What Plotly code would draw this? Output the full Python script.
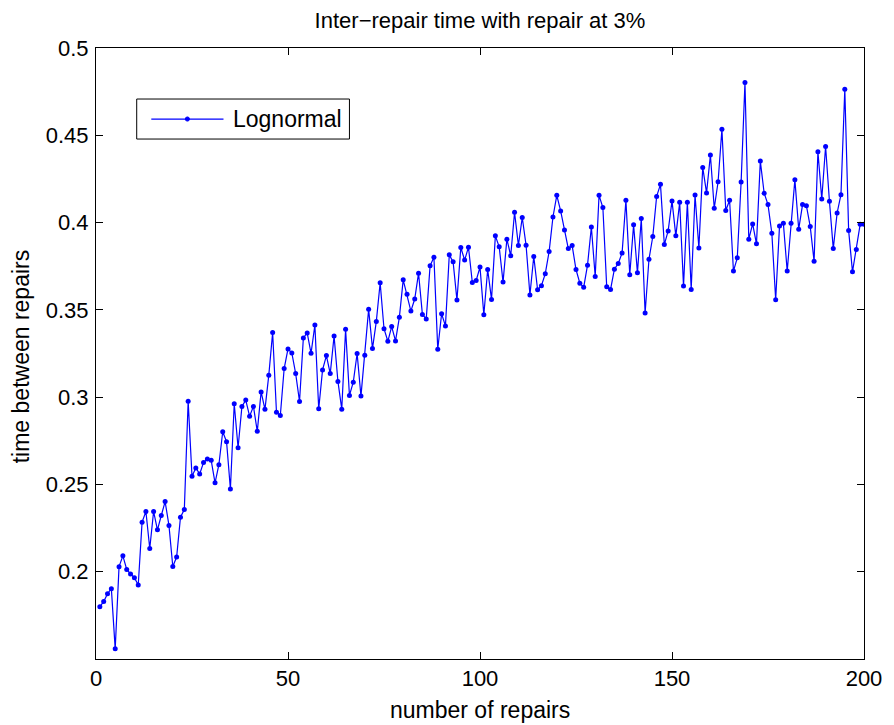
import plotly.graph_objects as go

# Time between consecutive repairs (lognormal model), one value per repair
repair_times = [
    0.1800, 0.1829, 0.1874, 0.1903, 0.1558, 0.2029, 0.2091, 0.2013, 0.1987, 0.1966,
    0.1924, 0.2284, 0.2345, 0.2133, 0.2345, 0.2240, 0.2322, 0.2402, 0.2265, 0.2030,
    0.2084, 0.2312, 0.2356, 0.2977, 0.2547, 0.2594, 0.2560, 0.2625, 0.2646, 0.2638,
    0.2509, 0.2613, 0.2802, 0.2745, 0.2474, 0.2962, 0.2710, 0.2947, 0.2983, 0.2891,
    0.2947, 0.2804, 0.3030, 0.2930, 0.3126, 0.3370, 0.2914, 0.2895, 0.3164, 0.3276,
    0.3253, 0.3135, 0.2975, 0.3339, 0.3368, 0.3251, 0.3413, 0.2933, 0.3156, 0.3238,
    0.3135, 0.3350, 0.3090, 0.2931, 0.3389, 0.3010, 0.3086, 0.3250, 0.3006, 0.3240,
    0.3503, 0.3278, 0.3434, 0.3655, 0.3392, 0.3320, 0.3404, 0.3322, 0.3457, 0.3672,
    0.3589, 0.3493, 0.3562, 0.3710, 0.3474, 0.3448, 0.3752, 0.3802, 0.3274, 0.3478,
    0.3408, 0.3815, 0.3775, 0.3556, 0.3857, 0.3785, 0.3859, 0.3657, 0.3668, 0.3745,
    0.3472, 0.3731, 0.3560, 0.3924, 0.3861, 0.3659, 0.3905, 0.3810, 0.4059, 0.3869,
    0.4029, 0.3870, 0.3585, 0.3806, 0.3615, 0.3638, 0.3707, 0.3834, 0.4032, 0.4156,
    0.4067, 0.3958, 0.3851, 0.3868, 0.3731, 0.3653, 0.3629, 0.3756, 0.3975, 0.3691,
    0.4156, 0.4086, 0.3632, 0.3617, 0.3733, 0.3766, 0.3825, 0.4128, 0.3701, 0.3987,
    0.3712, 0.4023, 0.3482, 0.3790, 0.3920, 0.4150, 0.4219, 0.3874, 0.3952, 0.4124,
    0.3924, 0.4116, 0.3636, 0.4116, 0.3617, 0.4158, 0.3855, 0.4316, 0.4170, 0.4387,
    0.4082, 0.4234, 0.4535, 0.4069, 0.4128, 0.3722, 0.3798, 0.4232, 0.4802, 0.3905,
    0.3992, 0.3878, 0.4352, 0.4168, 0.4103, 0.3939, 0.3558, 0.3981, 0.3996, 0.3722,
    0.3996, 0.4246, 0.3962, 0.4103, 0.4097, 0.3977, 0.3779, 0.4406, 0.4135, 0.4436,
    0.4122, 0.3851, 0.4055, 0.4160, 0.4764, 0.3954, 0.3718, 0.3846, 0.3990, 0.3990,
]
repair_number = list(range(1, len(repair_times) + 1))

x_ticks = [0, 50, 100, 150, 200]
y_ticks = [0.2, 0.25, 0.3, 0.35, 0.4, 0.45, 0.5]
y_tick_text = ["0.2", "0.25", "0.3", "0.35", "0.4", "0.45", "0.5"]

series_name = "Lognormal"
line_color = "#0000FF"
font_family = "Liberation Sans, Arial, Helvetica, sans-serif"

fig = go.Figure()
fig.add_trace(go.Scatter(
    x=repair_number,
    y=repair_times,
    mode="lines+markers",
    name=series_name,
    line=dict(color=line_color, width=1.2),
    marker=dict(color=line_color, size=5),
    showlegend=False,
))

axis_common = dict(
    showline=True,
    linecolor="black",
    linewidth=1,
    mirror="ticks",
    ticks="inside",
    ticklen=7,
    tickwidth=1,
    tickcolor="black",
    showgrid=False,
    zeroline=False,
    tickfont=dict(family=font_family, size=22, color="black"),
)

fig.update_xaxes(range=[0, 200], tickvals=x_ticks, ticklabelstandoff=0, **axis_common)
fig.update_yaxes(range=[0.15, 0.5], tickvals=y_ticks, ticktext=y_tick_text,
                 ticklabelstandoff=2, **axis_common)

# Legend box drawn in paper coordinates (MATLAB-style: long line sample with a dot)
legend_x0, legend_x1 = 0.053, 0.330
legend_y0, legend_y1 = 0.851, 0.9165
legend_mid = (legend_y0 + legend_y1) / 2
sample_x0, sample_x1 = 0.072, 0.166
sample_cx = (sample_x0 + sample_x1) / 2
dot_rx, dot_ry = 0.0027, 0.0034

shapes = [
    dict(type="rect", xref="paper", yref="paper",
         x0=legend_x0, x1=legend_x1, y0=legend_y0, y1=legend_y1,
         line=dict(color="black", width=1), fillcolor="white", layer="above"),
    dict(type="line", xref="paper", yref="paper",
         x0=sample_x0, x1=sample_x1, y0=legend_mid, y1=legend_mid,
         line=dict(color=line_color, width=1.2), layer="above"),
    dict(type="circle", xref="paper", yref="paper",
         x0=sample_cx - dot_rx, x1=sample_cx + dot_rx,
         y0=legend_mid - dot_ry, y1=legend_mid + dot_ry,
         line=dict(color=line_color, width=1), fillcolor=line_color, layer="above"),
]

annotations = [
    dict(text=series_name, xref="paper", yref="paper", x=0.176, y=legend_mid,
         xanchor="left", yanchor="middle", showarrow=False,
         font=dict(family=font_family, size=23, color="black")),
    dict(text="number of repairs", xref="paper", yref="paper", x=0.5, y=-0.0835,
         xanchor="center", yanchor="middle", showarrow=False,
         font=dict(family=font_family, size=23, color="black")),
    dict(text="time between repairs", xref="paper", yref="paper", x=-0.098, y=0.495,
         xanchor="center", yanchor="middle", textangle=-90, showarrow=False,
         font=dict(family=font_family, size=23, color="black")),
]

fig.update_layout(
    width=894,
    height=725,
    margin=dict(l=96, r=25, t=48, b=66),
    paper_bgcolor="white",
    plot_bgcolor="white",
    title=dict(text="Inter\u2212repair time with repair at 3%",
               x=0.5, xref="paper", xanchor="center",
               y=1 - 20 / 725, yref="container", yanchor="middle",
               font=dict(family=font_family, size=22, color="black")),
    shapes=shapes,
    annotations=annotations,
    showlegend=False,
)

fig.write_html("out.html")
